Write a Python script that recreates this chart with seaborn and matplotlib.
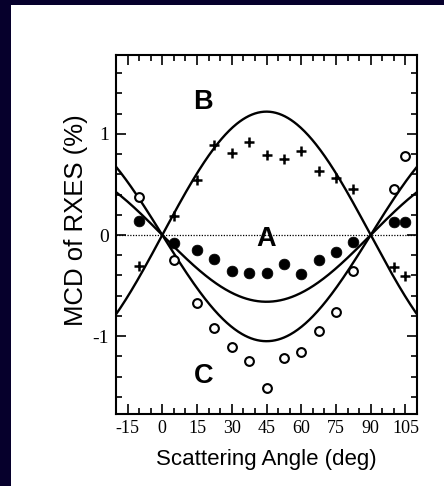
import numpy as np
import pandas as pd
import matplotlib
matplotlib.use("Agg")
import matplotlib.pyplot as plt
from matplotlib.patches import Rectangle
from matplotlib.ticker import MultipleLocator
import seaborn as sns

# ---- data ----
angles = [-10, 5, 15, 22.5, 30, 37.5, 45, 52.5, 60, 67.5, 75, 82.5, 100, 105]
series_A = [0.14, -0.08, -0.15, -0.24, -0.36, -0.38, -0.38, -0.29, -0.39, -0.25, -0.17, -0.07, 0.13, 0.13]
series_B = [-0.31, 0.19, 0.54, 0.89, 0.81, 0.92, 0.79, 0.75, 0.83, 0.63, 0.56, 0.45, -0.32, -0.41]
series_C = [0.38, -0.25, -0.67, -0.92, -1.11, -1.25, -1.51, -1.22, -1.16, -0.95, -0.76, -0.36, 0.45, 0.78]
# model curves: amplitude * sin(2*theta)
curve_names = ["A", "B", "C"]
curve_amplitudes = [-0.66, 1.22, -1.05]
x_ticks = [-15, 0, 15, 30, 45, 60, 75, 90, 105]
y_ticks = [-1, 0, 1]

sns.set_style("ticks")
plt.rcParams["font.family"] = ["Liberation Sans", "DejaVu Sans"]
plt.rcParams["text.color"] = "black"
plt.rcParams["axes.labelcolor"] = "black"
plt.rcParams["xtick.color"] = "black"
plt.rcParams["ytick.color"] = "black"

fig = plt.figure(figsize=(4.44, 4.86), dpi=100, facecolor="white")
navy = "#06002c"
fig.patches.append(Rectangle((0, 0), 11 / 444, 1, transform=fig.transFigure,
                             facecolor=navy, edgecolor="none", zorder=0))
fig.patches.append(Rectangle((0, 481 / 486), 1, 5 / 486, transform=fig.transFigure,
                             facecolor=navy, edgecolor="none", zorder=0))

ax = fig.add_axes([116 / 444, 72 / 486, 301 / 444, 359 / 486])
ax.set_facecolor("white")

theta = np.linspace(-20, 110, 400)
curves = pd.concat([
    pd.DataFrame({"angle": theta,
                  "mcd": amp * np.sin(np.radians(2 * theta)),
                  "curve": name})
    for name, amp in zip(curve_names, curve_amplitudes)
])
sns.lineplot(data=curves, x="angle", y="mcd", units="curve", estimator=None,
             color="black", linewidth=1.7, ax=ax, legend=False)

ax.axhline(0, color="black", linewidth=0.9, linestyle=(0, (1, 1.2)), zorder=1)

pts = pd.DataFrame({"angle": angles, "A": series_A, "B": series_B, "C": series_C})
sns.scatterplot(data=pts, x="angle", y="A", ax=ax, marker="o", s=60,
                color="black", edgecolor="black", linewidth=0.5, zorder=3)
sns.scatterplot(data=pts, x="angle", y="B", ax=ax, marker="+", s=62,
                color="black", linewidth=1.8, zorder=3)
sns.scatterplot(data=pts, x="angle", y="C", ax=ax, marker="o", s=40,
                facecolor="white", edgecolor="black", linewidth=1.5, zorder=3)

ax.text(17.7, 1.32, "B", fontsize=19.5, fontweight="bold", ha="center", va="center")
ax.text(45, -0.04, "A", fontsize=19.5, fontweight="bold", ha="center", va="center")
ax.text(17.7, -1.39, "C", fontsize=19.5, fontweight="bold", ha="center", va="center")

ax.set_xlim(-20, 110)
ax.set_ylim(-1.77, 1.78)
ax.set_xticks(x_ticks)
ax.set_yticks(y_ticks)
ax.xaxis.set_minor_locator(MultipleLocator(5))
ax.yaxis.set_minor_locator(MultipleLocator(0.2))
ax.tick_params(which="both", direction="in", top=True, right=True, width=1.2, color="black")
ax.tick_params(which="major", length=7)
ax.tick_params(which="minor", length=4)
ax.set_xticklabels([str(t) for t in x_ticks], family="Liberation Serif", fontsize=13)
ax.set_yticklabels([str(t) for t in y_ticks], family="Liberation Serif", fontsize=14)
ax.tick_params(axis="x", pad=4)
ax.tick_params(axis="y", pad=5)
for sp in ax.spines.values():
    sp.set_linewidth(1.5)
    sp.set_color("black")
    sp.set_visible(True)

ax.set_xlabel("Scattering Angle (deg)", fontsize=16, labelpad=9)
ax.set_ylabel("MCD of RXES (%)", fontsize=18.5)
ax.yaxis.set_label_coords(-0.092, 0.54)

fig.savefig("out.png", dpi=100, facecolor="white")
